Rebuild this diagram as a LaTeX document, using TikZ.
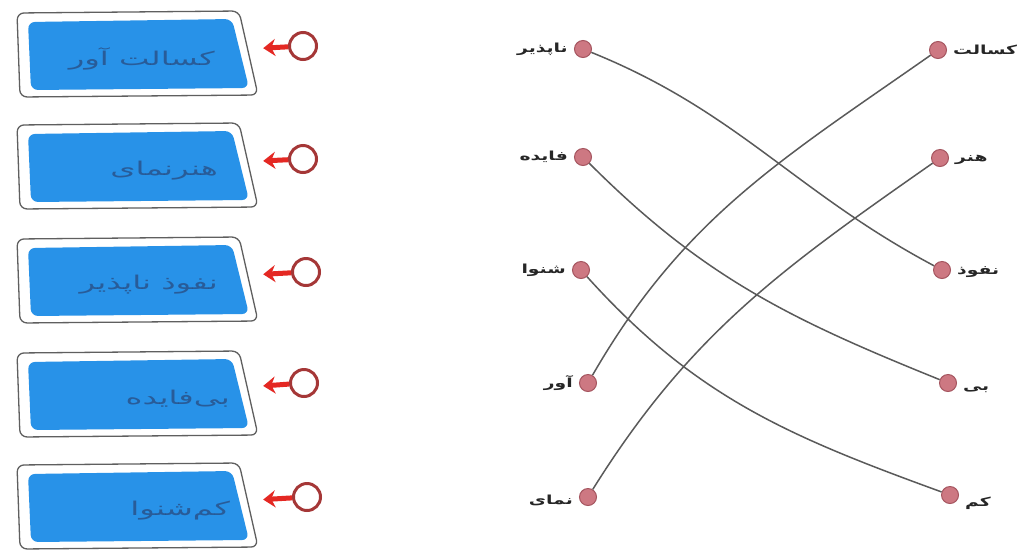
\documentclass[tikz,border=0pt]{standalone}
\usepackage{fontspec}
\newfontfamily\arabicfont[Script=Arabic]{DejaVu Sans}
\newfontfamily\handfont[Script=Arabic,FakeStretch=1.7]{DejaVu Sans}
\newfontfamily\lblfont[Script=Arabic,FakeStretch=1.5]{DejaVu Sans}
\TeXXeTstate=1
\usetikzlibrary{arrows.meta}
\definecolor{boxblue}{RGB}{40,146,232}
\definecolor{boxedge}{RGB}{95,95,95}
\definecolor{inkblue}{RGB}{40,70,120}
\definecolor{ringred}{RGB}{165,55,55}
\definecolor{arrowred}{RGB}{228,40,35}
\definecolor{dotfill}{RGB}{205,120,130}
\definecolor{dotedge}{RGB}{165,85,95}
\definecolor{wire}{RGB}{90,90,90}
\tikzset{
  anshold/.style={rectangle, minimum width=240pt, minimum height=80pt, inner sep=0pt},
  anstext/.style={text=inkblue, opacity=0.7, anchor=east, inner sep=0pt, font=\handfont\fontsize{19}{22}\selectfont},
  ring/.style={circle, draw=ringred, line width=3pt, fill=white, minimum size=27pt, inner sep=0pt},
  pointer/.style={arrowred, line width=5pt, -{Stealth[length=12pt,width=17pt]}, shorten >=6pt},
  dot/.style={circle, fill=dotfill, draw=dotedge, line width=1pt, minimum size=17pt, inner sep=0pt},
  wordlbl/.style={font=\lblfont\bfseries\fontsize{12.5}{14}\selectfont, text=black!85, inner sep=2pt, label distance=4pt},
  wire/.style={draw=wire, line width=1.5pt}
}
\newcommand\ansbox[4]{%
  \path[draw=boxedge, line width=1.3pt, fill=white, rounded corners=7pt]
    (17,#2-42) -- (239,#2-44) -- (258,#2+40) -- (20,#2+42) -- cycle;
  \path[fill=boxblue, rounded corners=7pt]
    (28,#2-33) -- (232,#2-36) -- (249,#2+33) -- (31,#2+35) -- cycle;
  \node[anshold] (#1) at (137,#2) {};
  \node[anstext] (#1t) at (#3,#2+4) {#4};
}
\begin{document}
\begin{tikzpicture}[x=1pt,y=-1pt]
\useasboundingbox[fill=white] (0,0) rectangle (1031,558);

% answer boxes
\ansbox{b1}{55}{215}{\beginR کسالت آور\endR}
\ansbox{b2}{167}{218}{\beginR هنرنمای\endR}
\ansbox{b3}{281}{218}{\beginR نفوذ ناپذیر\endR}
\ansbox{b4}{395}{230}{\beginR بی‌فایده\endR}
\ansbox{b5}{507}{230}{\beginR کم‌شنوا\endR}

% rings and arrows
\node[ring] (c1) at (303,46) {};
\node[ring] (c2) at (303,159) {};
\node[ring] (c3) at (306,272) {};
\node[ring] (c4) at (304,383) {};
\node[ring] (c5) at (307,497) {};
\draw[pointer] (c1) -- (b1);
\draw[pointer] (c2) -- (b2);
\draw[pointer] (c3) -- (b3);
\draw[pointer] (c4) -- (b4);
\draw[pointer] (c5) -- (b5);

% middle column
\node[dot, label={[wordlbl]west:\beginR ناپذیر\endR}] (m1) at (583,49) {};
\node[dot, label={[wordlbl]west:\beginR فایده\endR}] (m2) at (583,157) {};
\node[dot, label={[wordlbl]west:\beginR شنوا\endR}] (m3) at (581,270) {};
\node[dot, label={[wordlbl]west:\beginR آور\endR}] (m4) at (588,383) {};
\node[dot, label={[wordlbl,yshift=-3pt]west:\beginR نمای\endR}] (m5) at (588,497) {};

% right column
\node[dot, label={[wordlbl]east:\beginR کسالت\endR}] (r1) at (938,50) {};
\node[dot, label={[wordlbl,yshift=-2pt]east:\beginR هنر\endR}] (r2) at (940,158) {};
\node[dot, label={[wordlbl,yshift=-2pt]east:\beginR نفوذ\endR}] (r3) at (942,270) {};
\node[dot, label={[wordlbl,yshift=-7pt]east:\beginR بی\endR}] (r4) at (948,383) {};
\node[dot, label={[wordlbl,yshift=-8pt]east:\beginR کم\endR}] (r5) at (950,495) {};

% matching lines
\draw[wire] (m1) to[out=-22,in=152] (r3);
\draw[wire] (m2) to[out=-45,in=158] (r4);
\draw[wire] (m3) to[out=-48,in=160] (r5);
\draw[wire] (m4) to[out=60,in=-145] (r1);
\draw[wire] (m5) to[out=58,in=-145] (r2);
\end{tikzpicture}
\end{document}
